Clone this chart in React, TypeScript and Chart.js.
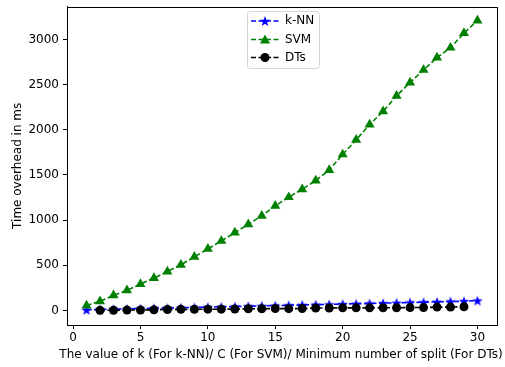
import React, { useEffect, useRef } from "react";
import { Chart, registerables } from "chart.js";

Chart.register(...registerables);

const kValues = [1, 2, 3, 4, 5, 6, 7, 8, 9, 10, 11, 12, 13, 14, 15, 16, 17, 18, 19, 20, 21, 22, 23, 24, 25, 26, 27, 28, 29, 30];
const knnTime = [8, 12, 15, 18, 22, 25, 28, 31, 34, 38, 41, 44, 48, 51, 55, 58, 62, 65, 68, 72, 75, 78, 82, 85, 89, 92, 96, 100, 103, 110];
const svmTime = [55, 102, 168, 223, 293, 359, 432, 506, 594, 682, 770, 862, 954, 1049, 1159, 1254, 1342, 1438, 1555, 1727, 1889, 2057, 2204, 2376, 2523, 2662, 2798, 2908, 3069, 3209];
const dtSplits = [2, 3, 4, 5, 6, 7, 8, 9, 10, 11, 12, 13, 14, 15, 16, 17, 18, 19, 20, 21, 22, 23, 24, 25, 26, 27, 28, 29];
const dtTime = [2, 3, 5, 6, 8, 12, 13, 13, 15, 15, 16, 20, 20, 22, 21, 22, 28, 28, 30, 30, 30, 31, 31, 33, 33, 38, 38, 42];
const xTicks = [0, 5, 10, 15, 20, 25, 30];
const yTicks = [0, 500, 1000, 1500, 2000, 2500, 3000];
const seriesLabels = ["k-NN", "SVM", "DTs"];
const xTitle = "The value of k (For k-NN)/ C (For SVM)/ Minimum number of split (For DTs)";
const yTitle = "Time overhead in ms";

const BLUE = "#0000ff";
const GREEN = "#008000";
const BLACK = "#000000";
const FONT = "'DejaVu Sans', sans-serif";
const FS = 12;

function starPath(ctx: CanvasRenderingContext2D, cx: number, cy: number, R: number) {
  const r = R * 0.42;
  ctx.beginPath();
  for (let i = 0; i < 10; i++) {
    const ang = -Math.PI / 2 + (i * Math.PI) / 5;
    const rad = i % 2 === 0 ? R : r;
    const x = cx + rad * Math.cos(ang);
    const y = cy + rad * Math.sin(ang);
    if (i === 0) ctx.moveTo(x, y);
    else ctx.lineTo(x, y);
  }
  ctx.closePath();
}

function makeStar(color: string) {
  const c = document.createElement("canvas");
  c.width = 12;
  c.height = 12;
  const ctx = c.getContext("2d")!;
  ctx.fillStyle = color;
  starPath(ctx, 6, 6.5, 5.5);
  ctx.fill();
  return c;
}

const framePlugin = {
  id: "frame",
  afterDraw(chart: any) {
    const { ctx, chartArea } = chart;
    ctx.save();
    ctx.strokeStyle = "#000";
    ctx.lineWidth = 1;
    ctx.strokeRect(
      Math.round(chartArea.left) + 0.5,
      Math.round(chartArea.top) + 0.5,
      Math.round(chartArea.right - chartArea.left),
      Math.round(chartArea.bottom - chartArea.top)
    );
    // x axis title (drawn here so it is not squeezed to the axis width)
    ctx.fillStyle = "#000";
    ctx.font = `${FS}px ${FONT}`;
    ctx.textAlign = "center";
    ctx.textBaseline = "middle";
    ctx.fillText(xTitle, (chartArea.left + chartArea.right) / 2 - 1, 355);
    // legend
    const bx = 247.5, by = 11.5, bw = 72, bh = 57;
    const rr = 3;
    ctx.globalAlpha = 0.8;
    ctx.fillStyle = "#fff";
    ctx.strokeStyle = "#cccccc";
    ctx.beginPath();
    ctx.moveTo(bx + rr, by);
    ctx.lineTo(bx + bw - rr, by);
    ctx.arcTo(bx + bw, by, bx + bw, by + rr, rr);
    ctx.lineTo(bx + bw, by + bh - rr);
    ctx.arcTo(bx + bw, by + bh, bx + bw - rr, by + bh, rr);
    ctx.lineTo(bx + rr, by + bh);
    ctx.arcTo(bx, by + bh, bx, by + bh - rr, rr);
    ctx.lineTo(bx, by + rr);
    ctx.arcTo(bx, by, bx + rr, by, rr);
    ctx.closePath();
    ctx.fill();
    ctx.stroke();
    ctx.globalAlpha = 1;
    const colors = [BLUE, GREEN, BLACK];
    const ys = [21, 39.5, 57.5];
    for (let i = 0; i < 3; i++) {
      const y = ys[i];
      ctx.strokeStyle = colors[i];
      ctx.lineWidth = 1.6;
      ctx.setLineDash([5, 2.5]);
      ctx.beginPath();
      ctx.moveTo(251, y);
      ctx.lineTo(279, y);
      ctx.stroke();
      ctx.setLineDash([]);
      ctx.fillStyle = colors[i];
      const cx = 265;
      if (i === 0) {
        starPath(ctx, cx, y + 0.5, 5.5);
        ctx.fill();
      } else if (i === 1) {
        ctx.beginPath();
        ctx.moveTo(cx, y - 5);
        ctx.lineTo(cx + 5, y + 4);
        ctx.lineTo(cx - 5, y + 4);
        ctx.closePath();
        ctx.fill();
      } else {
        ctx.beginPath();
        ctx.arc(cx, y, 4.5, 0, Math.PI * 2);
        ctx.fill();
      }
      ctx.fillStyle = "#000";
      ctx.font = `${FS}px ${FONT}`;
      ctx.textBaseline = "middle";
      ctx.textAlign = "left";
      ctx.fillText(seriesLabels[i], 285, y);
    }
    ctx.restore();
  },
};

function zeroPad(s: any) {
  s.paddingTop = 0;
  s.paddingBottom = 0;
  s.paddingLeft = 0;
  s.paddingRight = 0;
}

export default function App() {
  const ref = useRef<HTMLCanvasElement | null>(null);
  useEffect(() => {
    document.body.style.margin = "0";
    const star = makeStar(BLUE);
    const chart = new Chart(ref.current!, {
      type: "line",
      data: {
        datasets: [
          {
            label: seriesLabels[0],
            data: kValues.map((x, i) => ({ x, y: knnTime[i] })),
            borderColor: BLUE,
            backgroundColor: BLUE,
            borderWidth: 1.6,
            borderDash: [5, 2.5],
            pointStyle: star as any,
            pointRadius: 5,
            order: 2,
          },
          {
            label: seriesLabels[1],
            data: kValues.map((x, i) => ({ x, y: svmTime[i] })),
            borderColor: GREEN,
            backgroundColor: GREEN,
            borderWidth: 1.6,
            borderDash: [5, 2.5],
            pointStyle: "triangle",
            pointRadius: 5.8,
            pointBorderWidth: 0,
            order: 1,
          },
          {
            label: seriesLabels[2],
            data: dtSplits.map((x, i) => ({ x, y: dtTime[i] })),
            borderColor: BLACK,
            backgroundColor: BLACK,
            borderWidth: 1.6,
            borderDash: [5, 2.5],
            pointStyle: "circle",
            pointRadius: 4.5,
            pointBorderWidth: 0,
            order: 0,
          },
        ],
      },
      options: {
        animation: false,
        responsive: false,
        maintainAspectRatio: false,
        layout: { padding: { top: 5, right: 8, left: 0, bottom: 0 } },
        plugins: { legend: { display: false }, tooltip: { enabled: false } },
        elements: { line: { tension: 0 } },
        scales: {
          x: {
            type: "linear",
            min: -0.45,
            max: 31.45,
            afterBuildTicks: (s: any) => {
              s.ticks = xTicks.map((v) => ({ value: v }));
            },
            afterFit: (s: any) => {
              s.height = 42;
              zeroPad(s);
            },
            grid: { display: true, drawOnChartArea: false, drawTicks: true, tickLength: 4, color: "#000" },
            border: { display: true, color: "#000" },
            ticks: { color: "#000", font: { family: FONT, size: FS }, padding: 2, maxRotation: 0, callback: (v: any) => String(v) },
            title: { display: false },
          },
          y: {
            type: "linear",
            min: -160,
            max: 3363,
            afterBuildTicks: (s: any) => {
              s.ticks = yTicks.map((v) => ({ value: v }));
            },
            afterFit: (s: any) => {
              s.width = 67;
              zeroPad(s);
            },
            grid: { display: true, drawOnChartArea: false, drawTicks: true, tickLength: 4, color: "#000" },
            border: { display: true, color: "#000" },
            ticks: { color: "#000", font: { family: FONT, size: FS }, padding: 4, callback: (v: any) => String(v) },
            title: { display: true, text: yTitle, color: "#000", font: { family: FONT, size: FS }, padding: { top: 11, bottom: 0 } },
          },
        },
      },
      plugins: [framePlugin],
    });
    return () => chart.destroy();
  }, []);
  return (
    <div style={{ position: "absolute", left: 0, top: 0, width: 505, height: 367, background: "#fff" }}>
      <canvas ref={ref} width={505} height={367} style={{ width: 505, height: 367, display: "block" }} />
    </div>
  );
}
